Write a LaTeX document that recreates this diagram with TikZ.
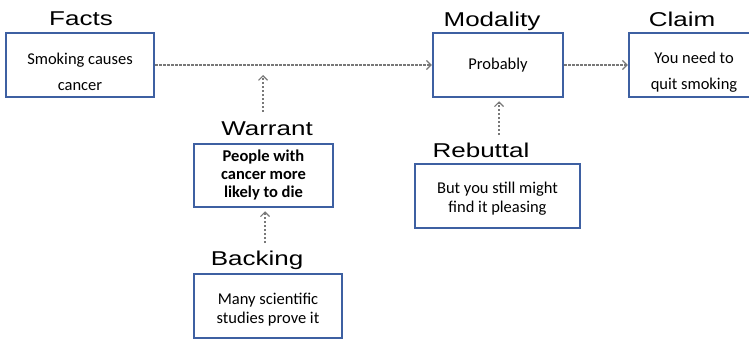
\documentclass[tikz,border=0pt]{standalone}
\usepackage{fontspec}
\setmainfont{Carlito}
\newfontfamily\labelfont{Liberation Sans}
\usetikzlibrary{arrows.meta}
\definecolor{boxblue}{RGB}{62,96,162}
\definecolor{linkgray}{RGB}{120,120,120}
\newcommand{\tagtext}[1]{\scalebox{1.3}[1]{#1}}
% taller first line pushes a two-line text a little lower in its box
\newcommand{\lowstrut}{\rule{0pt}{26pt}}
\tikzset{
  box/.style={draw=boxblue, line width=2.5pt, fill=white, align=center,
    font=\fontsize{16.5}{19}\selectfont, inner sep=0pt},
  tag/.style={font=\labelfont\fontsize{20}{22}\selectfont, anchor=base, inner sep=0pt},
  link/.style={draw=linkgray, line width=1.1pt, dash pattern=on 2.5pt off 1.5pt,
    -{Straight Barb[length=4.5pt,width=9pt]}}
}
\begin{document}
\begin{tikzpicture}[x=1pt, y=-1pt]
  \useasboundingbox (0,0) rectangle (749,340);
  \clip (0,0) rectangle (749,340);

  % boxes
  \node[box, minimum width=148pt, minimum height=64pt] (facts) at (80,65)
    {\lowstrut Smoking causes\\[7pt]cancer};
  \node[box, minimum width=130pt, minimum height=64pt] (modality) at (498,65)
    {Probably};
  \node[box, minimum width=130pt, minimum height=64pt] (claim) at (694,65)
    {\lowstrut You need to\\[7pt]quit smoking};
  \node[box, minimum width=139pt, minimum height=63pt,
        font=\bfseries\fontsize{16.5}{18}\selectfont] (warrant) at (263.5,175.5)
    {People with\\cancer more\\likely to die};
  \node[box, minimum width=165pt, minimum height=64pt] (rebuttal) at (497.5,196)
    {\rule{0pt}{16pt}But you still might\\find it pleasing};
  \node[box, minimum width=148pt, minimum height=64pt] (backing) at (268,306)
    {\rule{0pt}{18pt}Many scientific\\studies prove it};

  % headings
  \node[tag] (factstag) at (81,25) {\tagtext{Facts}};
  \node[tag] (modalitytag) at (492,26) {\tagtext{Modality}};
  \node[tag] (claimtag) at (682,26) {\tagtext{Claim}};
  \node[tag] (warranttag) at (267,135) {\tagtext{Warrant}};
  \node[tag] (rebuttaltag) at (481,157) {\tagtext{Rebuttal}};
  \node[tag] (backingtag) at (257,265) {\tagtext{Backing}};

  % arrow feet
  \coordinate (wfoot) at (263,112);
  \coordinate (whead) at (263,75);
  \coordinate (bfoot) at (265,243);
  \coordinate (rfoot) at (499,135);

  % connectors
  \draw[link] (facts.east) -- (modality.west);
  \draw[link] (modality.east) -- (claim.west);
  \draw[link] (wfoot) -- (whead);
  \draw[link] (bfoot) -- ([yshift=-3pt]warrant.south -| bfoot);
  \draw[link] (rfoot) -- ([yshift=-3pt]modality.south -| rfoot);
\end{tikzpicture}
\end{document}
